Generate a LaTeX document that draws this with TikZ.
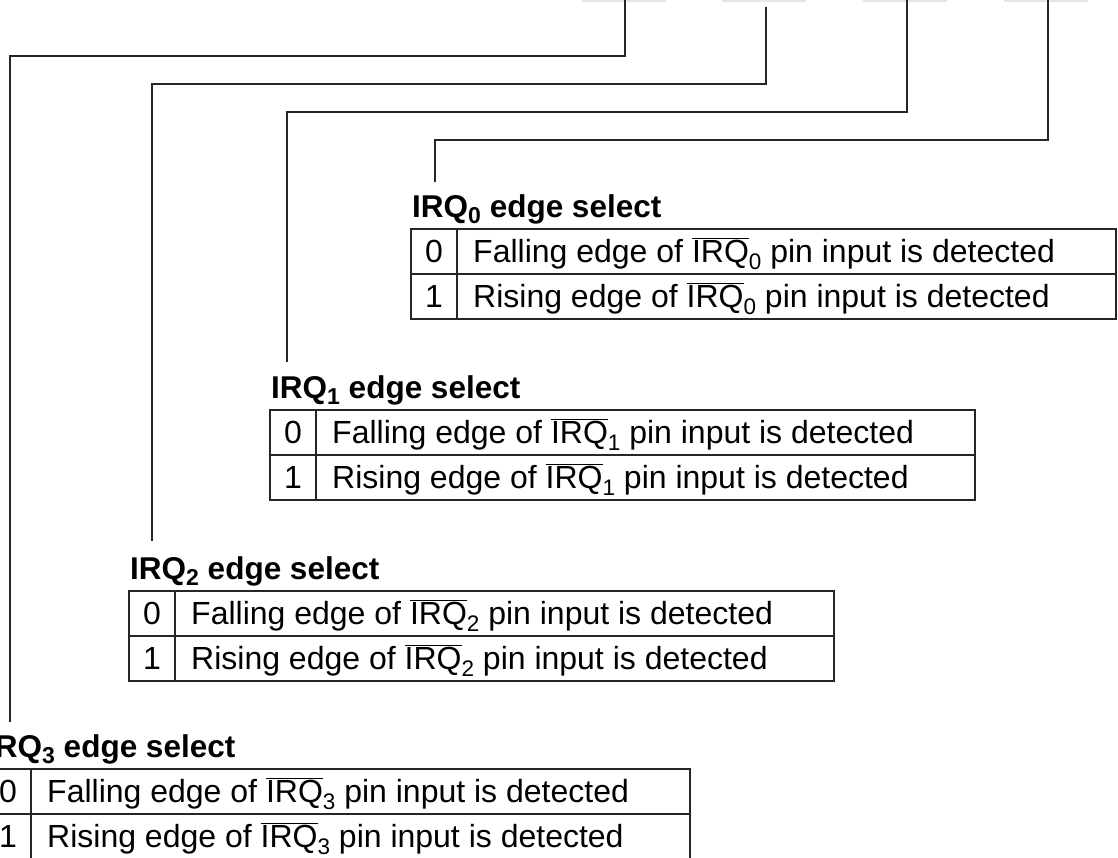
\documentclass[tikz,border=0pt]{standalone}
\usepackage{fontspec}
\setmainfont{Liberation Sans}
\newcommand{\irqbar}[1]{$\overline{\hbox{IRQ}}$\raisebox{-7pt}{\fontsize{22.5}{22.5}\selectfont #1}}
\newcommand{\irqttl}[1]{IRQ\raisebox{-6pt}{\fontsize{23}{23}\selectfont\bfseries #1} edge select}
\begin{document}
\begin{tikzpicture}[x=1pt,y=-1pt]
\tikzset{
  lead/.style={line width=1.3pt, draw=black!85},
  tline/.style={line width=1.3pt, draw=black!85},
  ttl/.style={anchor=base west, inner sep=0pt, font=\fontsize{31.5}{36}\selectfont\bfseries},
  rowtxt/.style={anchor=base west, inner sep=0pt, font=\fontsize{32}{36}\selectfont},
  bitnum/.style={anchor=base, inner sep=0pt, font=\fontsize{32}{36}\selectfont},
  bitbox/.style={fill=black!10, draw=none},
}
\useasboundingbox (0,0) rectangle (1118,857);
\clip (0,0) rectangle (1118,857);

% faint register bit boxes at the top edge
\fill[bitbox] (582,0) rectangle (666,1.5);
\fill[bitbox] (722,0) rectangle (806,1.5);
\fill[bitbox] (863,0) rectangle (947,1.5);
\fill[bitbox] (1004,0) rectangle (1088,1.5);

% tables
\newcommand{\edgetable}[3]{%
  \begin{scope}[shift={(#2,#3)}]
    \draw[tline] (0,0) rectangle (705,90);
    \draw[tline] (0,45) -- (705,45);
    \draw[tline] (46,0) -- (46,90);
    \node[ttl] (t#1) at (1,-12) {\irqttl{#1}};
    \node[bitnum] (n#1a) at (23,33) {0};
    \node[rowtxt] (r#1a) at (62,33) {Falling edge of \irqbar{#1} pin input is detected};
    \node[bitnum] (n#1b) at (23,78) {1};
    \node[rowtxt] (r#1b) at (62,78) {Rising edge of \irqbar{#1} pin input is detected};
  \end{scope}}
\edgetable{0}{411}{229}
\edgetable{1}{270}{410}
\edgetable{2}{129}{591}
\edgetable{3}{-15}{769}

% leader coordinates
\coordinate (b0) at (1048,0);
\coordinate (b1) at (907,0);
\coordinate (b2) at (766,7);
\coordinate (b3) at (625,0);
\coordinate (e0) at (435,182);
\coordinate (e1) at (287,362);
\coordinate (e2) at (152,541);
\coordinate (e3) at (10,722);
\coordinate (h0) at (0,140);
\coordinate (h1) at (0,112);
\coordinate (h2) at (0,84);
\coordinate (h3) at (0,56);

\draw[lead] (b0) -- (b0 |- h0) -- (e0 |- h0) -- (e0);
\draw[lead] (b1) -- (b1 |- h1) -- (e1 |- h1) -- (e1);
\draw[lead] (b2) -- (b2 |- h2) -- (e2 |- h2) -- (e2);
\draw[lead] (b3) -- (b3 |- h3) -- (e3 |- h3) -- (e3);
\end{tikzpicture}
\end{document}
